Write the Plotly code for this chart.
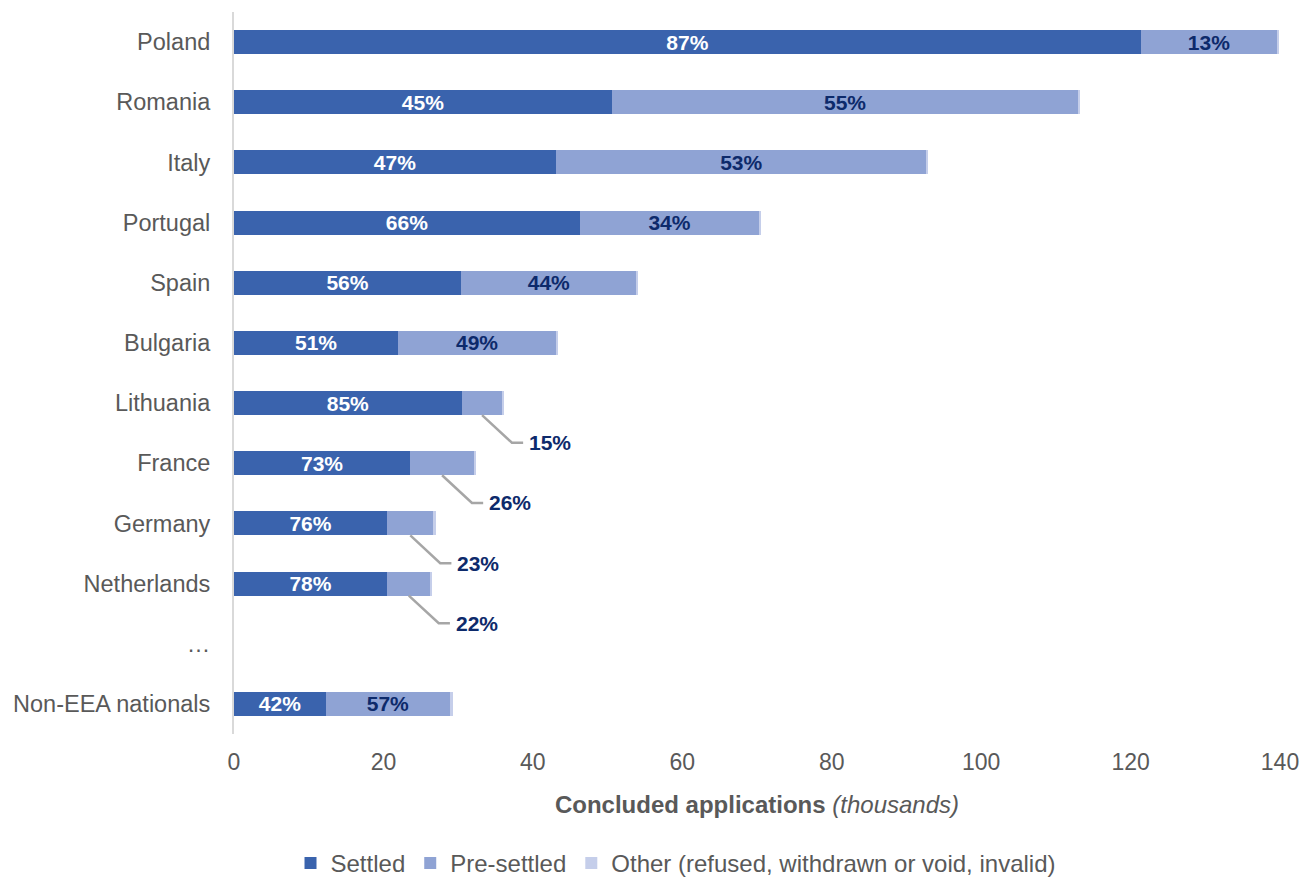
"""
Concluded applications by nationality, stacked horizontal bars
"""
import plotly.graph_objects as go

# data (thousands of concluded applications)
countries = ['Poland', 'Romania', 'Italy', 'Portugal', 'Spain', 'Bulgaria',
             'Lithuania', 'France', 'Germany', 'Netherlands', '…', 'Non-EEA nationals']
settled = [121.4, 50.6, 43.1, 46.3, 30.4, 22.0, 30.5, 23.6, 20.5, 20.5, None, 12.3]
pre_settled = [18.2, 62.4, 49.6, 24.0, 23.5, 21.1, 5.4, 8.5, 6.2, 5.8, None, 16.6]
other = [0.3, 0.2, 0.2, 0.2, 0.2, 0.2, 0.3, 0.3, 0.3, 0.2, None, 0.4]
settled_pct = ['87%', '45%', '47%', '66%', '56%', '51%', '85%', '73%', '76%', '78%', '', '42%']
pre_settled_pct = ['13%', '55%', '53%', '34%', '44%', '49%', '15%', '26%', '23%', '22%', '', '57%']
callout = [False, False, False, False, False, False, True, True, True, True, False, False]
x_ticks = [0, 20, 40, 60, 80, 100, 120, 140]

FONT = 'Liberation Sans, Arial, sans-serif'
GREY = '#595959'
C_SETTLED = '#3A63AD'
C_PRE = '#8FA3D4'
C_OTHER = '#C5CEEA'
NAVY = '#0D2A6B'

rows = list(range(len(countries)))

fig = go.Figure()
fig.add_trace(go.Bar(
    y=rows, x=settled, orientation='h', name='Settled', width=0.4,
    marker=dict(color=C_SETTLED, line=dict(width=0)),
    text=settled_pct, textposition='inside', insidetextanchor='middle',
    textangle=0, constraintext='none',
    textfont=dict(family=FONT, size=21, color='white', weight='bold'),
    hoverinfo='skip'
))
fig.add_trace(go.Bar(
    y=rows, x=pre_settled, orientation='h', name='Pre-settled', width=0.4,
    marker=dict(color=C_PRE, line=dict(width=0)),
    text=['' if c else t for t, c in zip(pre_settled_pct, callout)],
    textposition='inside', insidetextanchor='middle',
    textangle=0, constraintext='none',
    textfont=dict(family=FONT, size=21, color=NAVY, weight='bold'),
    hoverinfo='skip'
))
fig.add_trace(go.Bar(
    y=rows, x=other, orientation='h', name='Other (refused, withdrawn or void, invalid)',
    width=0.4, marker=dict(color=C_OTHER, line=dict(width=0)), hoverinfo='skip'
))

# leader lines for the small pre-settled segments
for i, flag in enumerate(callout):
    if not flag:
        continue
    mid = settled[i] + pre_settled[i] / 2
    fig.add_trace(go.Scatter(
        x=[mid, mid + 4.0, mid + 5.5], y=[i + 0.2, i + 0.66, i + 0.66],
        mode='lines', line=dict(color='#A6A6A6', width=2.5),
        showlegend=False, hoverinfo='skip'
    ))
    fig.add_annotation(
        x=mid + 6.0, y=i + 0.66, text=pre_settled_pct[i], showarrow=False,
        xanchor='left', yanchor='middle',
        font=dict(family=FONT, size=21, color=NAVY, weight='bold')
    )

fig.update_layout(
    width=1314, height=878,
    barmode='stack',
    plot_bgcolor='white', paper_bgcolor='white',
    margin=dict(l=226, r=42, t=4, b=152),
    font=dict(family=FONT, size=23, color=GREY),
    legend=dict(
        orientation='h', xref='container', yref='container',
        x=0.508, xanchor='center', y=0.0, yanchor='bottom',
        font=dict(family=FONT, size=24, color=GREY),
        itemwidth=30, traceorder='normal'
    ),
    showlegend=True,
)
fig.update_xaxes(
    range=[0, 140], tickvals=x_ticks, showgrid=False, zeroline=False,
    showline=False, ticks='', ticklabelstandoff=12,
    tickfont=dict(family=FONT, size=23, color=GREY),
    title=dict(text='<b>Concluded applications</b> <i>(thousands)</i>',
               font=dict(family=FONT, size=24, color=GREY), standoff=22)
)
fig.update_yaxes(
    range=[11.5, -0.5], tickvals=rows, ticktext=countries,
    showgrid=False, zeroline=False, showline=True, linecolor='#D9D9D9', linewidth=2,
    ticks='', ticklabelstandoff=17,
    tickfont=dict(family=FONT, size=23.5, color=GREY)
)

fig.write_html("out.html")
